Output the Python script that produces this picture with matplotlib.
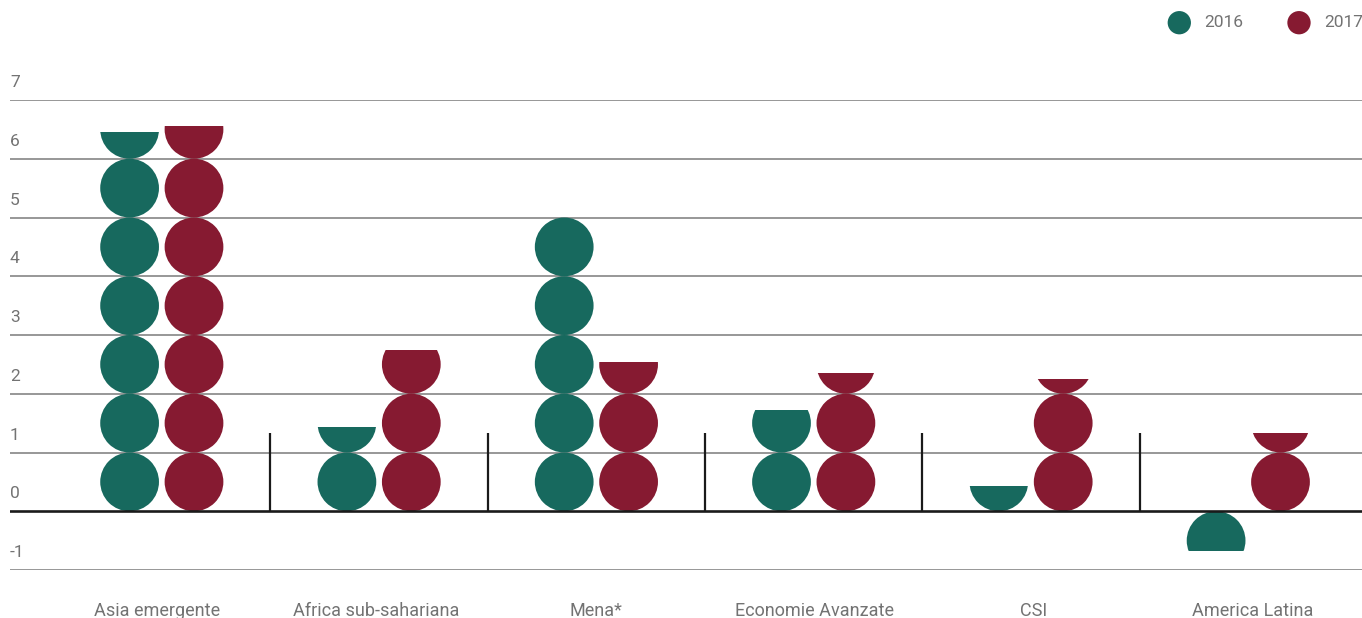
import numpy as np
import matplotlib
matplotlib.use('Agg')
import matplotlib.pyplot as plt
from matplotlib.patches import Circle, Rectangle

## data
categories = ['Asia emergente', 'Africa sub-sahariana', 'Mena*',
              'Economie Avanzate', 'CSI', 'America Latina']
years = ['2016', '2017']
values_2016 = [6.45, 1.43, 5.0, 1.73, 0.43, -0.67]
values_2017 = [6.56, 2.75, 2.54, 2.35, 2.25, 1.34]
y_ticks = [-1, 0, 1, 2, 3, 4, 5, 6, 7]

colors = ['#17695e', '#861a31']
grey_text = '#737373'

plt.rcParams['font.family'] = ['Roboto', 'DejaVu Sans']

W, H = 1362, 618
fig = plt.figure(figsize=(W / 100, H / 100), dpi=100)

## axes placed so that 1 unit in x equals 1 unit in y (circles stay round)
px_left, px_right = 10, W
px_top, px_bottom = 100, 570          # pixel rows of y=7 and y=-1
ax = fig.add_axes([px_left / W, (H - px_bottom) / H,
                   (px_right - px_left) / W, (px_bottom - px_top) / H])
ax.set_ylim(-1, 7)
unit = (px_bottom - px_top) / 8.0
ax.set_xlim(0, (px_right - px_left) / unit)
ax.axis('off')

group_start = 151.8 / unit
group_step = 217.3 / unit
label_start = 147.5 / unit
label_step = 219.0 / unit
bar_off = 32.2 / unit
radius = 0.5

## grid lines and tick labels
for t in y_ticks:
    if t == 0:
        ax.axhline(0, color='#1a1a1a', lw=1.9, zorder=3)
    else:
        ax.axhline(t, color='#7a7a7a', lw=1.1, zorder=1)
    ax.text(0, t + 0.17, str(t), ha='left', va='bottom', fontsize=12.5,
            color=grey_text)


def stack(ax, x, v, color):
    ## one circle per unit, the last one cut at the value
    n = int(np.ceil(abs(v) - 1e-9))
    sign = 1 if v >= 0 else -1
    for k in range(n):
        cy = sign * (k + 0.5)
        c = Circle((x, cy), radius, facecolor=color, edgecolor='none', zorder=2)
        ax.add_patch(c)
        if k + 1 > abs(v) + 1e-9:
            lo, hi = sorted([sign * k, v])
            clip = Rectangle((x - 1, lo), 2, hi - lo, transform=ax.transData)
            c.set_clip_path(clip)


for i, cat in enumerate(categories):
    xc = group_start + i * group_step
    stack(ax, xc - bar_off, values_2016[i], colors[0])
    stack(ax, xc + bar_off, values_2017[i], colors[1])
    ax.text(label_start + i * label_step, -1.79, cat, ha='center',
            va='baseline', fontsize=13, color=grey_text, clip_on=False)
    if i > 0:
        ax.plot([xc - group_step / 2] * 2, [0, 1.34], color='#1a1a1a',
                lw=1.6, solid_capstyle='butt', zorder=3)

## legend, top right
leg_x = [1179.3, 1299.0]
for lx, lab, col in zip(leg_x, years, colors):
    fig.add_artist(Circle((lx / 100, (H - 22.7) / 100), 0.1165,
                          transform=fig.dpi_scale_trans, facecolor=col,
                          edgecolor='none'))
    fig.text((lx + 25) / W, (H - 22.7) / H, lab, ha='left', va='center',
             fontsize=12.5, color=grey_text)

fig.savefig('out.png', dpi=100)
